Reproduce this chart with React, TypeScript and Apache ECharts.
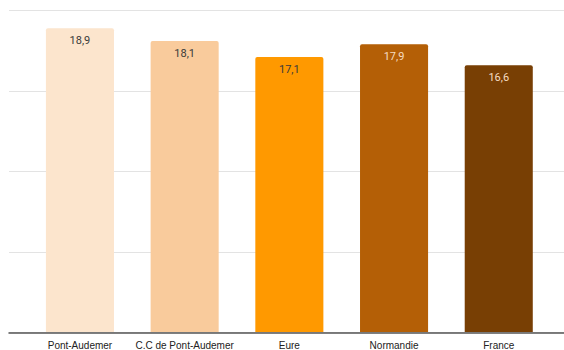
import React, { useEffect, useRef } from "react";
import * as echarts from "echarts";

const categories = ["Pont-Audemer", "C.C de Pont-Audemer", "Eure", "Normandie", "France"];
const values = [18.9, 18.1, 17.1, 17.9, 16.6];
const barColors = ["#fce5cd", "#f9cb9c", "#ff9900", "#b45f06", "#783f04"];
const labelColors = ["#3a3a3a", "#3a3a3a", "#3a3a3a", "#f6dcc2", "#f6dcc2"];
const yTicks = [0, 5, 10, 15, 20];

export default function App() {
  const ref = useRef<HTMLDivElement>(null);
  useEffect(() => {
    if (!ref.current) return;
    const chart = echarts.init(ref.current, null, { renderer: "svg" });
    const yMin = yTicks[0];
    const yMax = yTicks[yTicks.length - 1];
    const interval = yTicks[1] - yTicks[0];
    chart.setOption({
      animation: false,
      backgroundColor: "#ffffff",
      grid: [
        { left: 27.6, right: 12.9, top: 10.5, bottom: 17.5 },
        { left: 9, right: 0, top: 10.5, bottom: 17.5 },
      ],
      xAxis: [
        {
          type: "category",
          gridIndex: 0,
          data: categories,
          axisLine: { show: false },
          axisTick: { show: false },
          axisLabel: {
            color: "#222222",
            fontSize: 10,
            fontFamily: "Liberation Sans, Arial, sans-serif",
            margin: 8,
            interval: 0,
          },
        },
        {
          type: "value",
          gridIndex: 1,
          min: 0,
          max: 1,
          axisLine: { show: true, lineStyle: { color: "#555555", width: 1.5 } },
          axisTick: { show: false },
          axisLabel: { show: false },
          splitLine: { show: false },
        },
      ],
      yAxis: [
        {
          type: "value",
          gridIndex: 0,
          min: yMin,
          max: yMax,
          interval,
          axisLine: { show: false },
          axisTick: { show: false },
          axisLabel: { show: false },
          splitLine: { show: false },
        },
        {
          type: "value",
          gridIndex: 1,
          min: yMin,
          max: yMax,
          interval,
          axisLine: { show: false },
          axisTick: { show: false },
          axisLabel: { show: false },
          splitLine: { show: true, lineStyle: { color: "#e3e3e3", width: 1.2 } },
        },
      ],
      series: [
        {
          type: "bar",
          xAxisIndex: 0,
          yAxisIndex: 0,
          barWidth: "65%",
          data: values.map((v, i) => ({
            value: v,
            itemStyle: { color: barColors[i], borderRadius: [2, 2, 0, 0] },
            label: { color: labelColors[i] },
          })),
          label: {
            show: true,
            position: "insideTop",
            distance: 7,
            fontSize: 11,
            fontFamily: "Roboto, sans-serif",
            formatter: (p: any) => String(p.value).replace(".", ","),
          },
        },
      ],
    });
    return () => chart.dispose();
  }, []);
  return (
    <div
      ref={ref}
      style={{ position: "fixed", left: 0, top: 0, width: 564, height: 350 }}
    />
  );
}
